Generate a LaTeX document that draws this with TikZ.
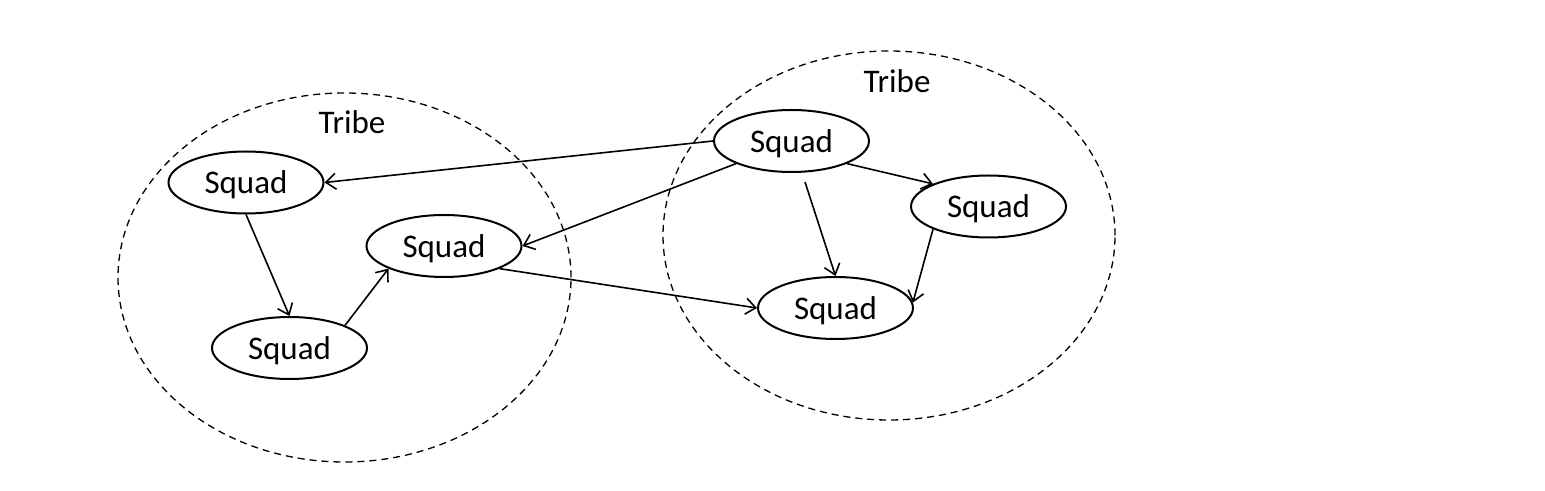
\documentclass[tikz,border=0pt]{standalone}
\usepackage{fontspec}
\setmainfont{Carlito}
\usetikzlibrary{shapes.geometric,arrows.meta}
\begin{document}
\begin{tikzpicture}[x=0.5pt,y=-0.5pt,
  squad/.style={draw,ellipse,line width=1pt,minimum width=77.5pt,minimum height=31pt,inner sep=0pt,text depth=0pt,font=\fontsize{16.5}{19}\selectfont},
  tribe/.style={draw,ellipse,dashed,dash pattern=on 3.5pt off 2.5pt,line width=0.65pt,inner sep=0pt},
  tlabel/.style={font=\fontsize{16.5}{19}\selectfont,inner sep=0pt},
  link/.style={line width=0.8pt,-{Straight Barb[length=5pt,width=8pt]}}]
\useasboundingbox (0,0) rectangle (1545,491);
\node[tribe,minimum width=226.5pt,minimum height=184.5pt] (T1) at (344.5,277.5) {};
\node[tribe,minimum width=226pt,minimum height=184.5pt] (T2) at (889,235.5) {};
\node[tlabel] (L1) at (352,122) {Tribe};
\node[tlabel] (L2) at (897,81) {Tribe};
\node[squad] (A) at (246,182.5) {Squad};
\node[squad] (B) at (444,246) {Squad};
\node[squad] (C) at (289.5,348) {Squad};
\node[squad] (D) at (791.5,141) {Squad};
\node[squad] (E) at (988.5,206.5) {Squad};
\node[squad] (F) at (835.5,308) {Squad};
\coordinate (Ds) at (805,182);
\draw[link] (D.west) -- (A.east);
\draw[link] (D.south west) -- (B.east);
\draw[link] (B.south east) -- (F.west);
\draw[link] (A.south) -- (C.north);
\draw[link] (C.north east) -- (B.south west);
\draw[link] (Ds) -- (F.north);
\draw[link] (D.south east) -- (E.north west);
\draw[link] (E.south west) -- (F.4);
\end{tikzpicture}
\end{document}
